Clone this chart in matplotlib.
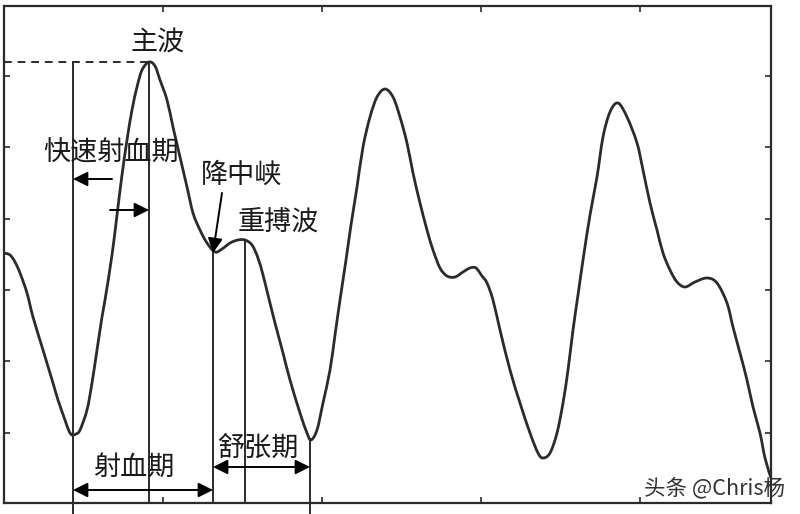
import matplotlib
matplotlib.use("Agg")
import matplotlib.pyplot as plt
from matplotlib.path import Path
from matplotlib.patches import PathPatch

plt.rcParams['font.family'] = ['Noto Sans CJK SC', 'DejaVu Sans']

# Pulse wave samples (arbitrary units: time, amplitude)
t = [0, 6, 11, 16, 23, 29, 39, 49, 54, 61, 65, 68, 72, 76, 83, 88, 93, 98, 101, 108,
     113, 118, 123, 128, 133, 138, 145, 151, 156, 163, 169, 176, 183, 189, 196, 203,
     211, 218, 226, 234, 241, 248, 254, 259, 264, 271, 279, 286, 296, 303, 307, 313,
     319, 326, 331, 336, 342, 347, 353, 359, 366, 373, 381, 389, 396, 403, 409, 416,
     423, 429, 436, 443, 451, 459, 466, 472, 478, 483, 489, 496, 506, 516, 526, 534,
     539, 546, 553, 559, 564, 569, 574, 579, 586, 593, 599, 606, 614, 623, 633, 639,
     646, 653, 659, 666, 673, 681, 691, 703, 713, 723, 729, 736, 743, 749, 756, 761, 767]
amp = [250, 248, 241, 230, 210, 186, 153, 120, 103, 83, 72, 68, 69, 73, 93, 120, 153, 186, 203, 248,
       288, 328, 363, 393, 416, 433, 441, 437, 423, 403, 376, 346, 316, 290, 273, 260,
       251, 254, 260, 263, 263, 258, 245, 228, 208, 180, 150, 123, 90, 70, 63, 73,
       100, 133, 168, 203, 243, 278, 316, 356, 386, 406, 414, 406, 386, 360, 330, 300,
       273, 253, 235, 227, 226, 231, 235, 235, 227, 220, 203, 173, 133, 100, 70, 50,
       45, 50, 70, 100, 133, 173, 208, 243, 288, 326, 366, 391, 400, 386, 360, 333,
       300, 273, 250, 233, 221, 216, 221, 225, 220, 200, 176, 150, 123, 96, 70, 45, 25]

# Feature positions
t_start, t_peak, t_notch, t_dicrotic, t_end = 69, 145, 209, 241, 306
a_peak, a_notch, a_dicrotic, a_end = 441, 250, 263, 64

labels = ['主波', '快速射血期', '降中峡', '重搏波', '射血期', '舒张期']
label_pos = [(154, 460), (107, 350), (238, 328), (274, 281), (130, 36), (254, 55)]

xticks = [159, 318, 477, 636]
yticks = [70, 142, 213, 284, 356, 427]

ink = '#2b2b2b'

fig = plt.figure(figsize=(8, 5.14), dpi=100)
fig.patch.set_facecolor('white')
ax = fig.add_axes([4/800, 11/514, 767/800, 497/514])
ax.set_xlim(0, 767)
ax.set_ylim(0, 497)

# smooth curve through the read samples (Catmull-Rom rendered as Bezier path)
pts = list(zip(t, amp))
verts = [pts[0]]
codes = [Path.MOVETO]
n = len(pts)
for i in range(n - 1):
    p0 = pts[i - 1] if i > 0 else pts[i]
    p1 = pts[i]
    p2 = pts[i + 1]
    p3 = pts[i + 2] if i + 2 < n else pts[i + 1]
    c1 = (p1[0] + (p2[0] - p0[0]) / 6, p1[1] + (p2[1] - p0[1]) / 6)
    c2 = (p2[0] - (p3[0] - p1[0]) / 6, p2[1] - (p3[1] - p1[1]) / 6)
    verts += [c1, c2, p2]
    codes += [Path.CURVE4] * 3
ax.add_patch(PathPatch(Path(verts, codes), fill=False, edgecolor=ink, lw=2.0,
                       joinstyle='round', capstyle='round'))

# reference lines
ax.plot([0, t_peak], [a_peak, a_peak], color=ink, lw=1.4, ls=(0, (4, 3)))
ax.plot([t_start, t_start], [a_peak, -11], color=ink, lw=1.4, clip_on=False)
ax.plot([t_peak, t_peak], [a_peak, 0], color=ink, lw=1.4)
ax.plot([t_notch, t_notch], [a_notch, 0], color=ink, lw=1.4)
ax.plot([t_dicrotic, t_dicrotic], [a_dicrotic, 0], color=ink, lw=1.4)
ax.plot([t_end, t_end], [a_end, -11], color=ink, lw=1.4, clip_on=False)

ap = dict(arrowstyle='-|>', color='black', lw=1.4, mutation_scale=22,
          shrinkA=0, shrinkB=0)
ap2 = dict(arrowstyle='<|-|>', color='black', lw=1.4, mutation_scale=22,
           shrinkA=0, shrinkB=0)
ax.annotate('', xy=(t_start, 324), xytext=(108, 324), arrowprops=ap)
ax.annotate('', xy=(t_peak, 293), xytext=(106, 293), arrowprops=ap)
ax.annotate('', xy=(t_notch, 250), xytext=(218, 310), arrowprops=ap)
ax.annotate('', xy=(t_notch, 13), xytext=(t_start, 13), arrowprops=ap2)
ax.annotate('', xy=(t_end, 36), xytext=(t_notch, 36), arrowprops=ap2)

for s, (x, y) in zip(labels, label_pos):
    ax.text(x, y, s, fontsize=19.5, ha='center', va='center', color='#1a1a1a')

ax.set_xticks(xticks)
ax.set_yticks(yticks)
ax.tick_params(direction='in', length=4, width=1.2, color=ink,
               top=True, right=True, labelbottom=False, labelleft=False)
for sp in ax.spines.values():
    sp.set_color(ink)
    sp.set_linewidth(1.6)

fig.text(715/800, 1 - 488/514, '头条 @Chris杨', fontsize=15.5, ha='center', va='center',
         color='#333333')

fig.savefig('out.png', dpi=100, facecolor='white')
